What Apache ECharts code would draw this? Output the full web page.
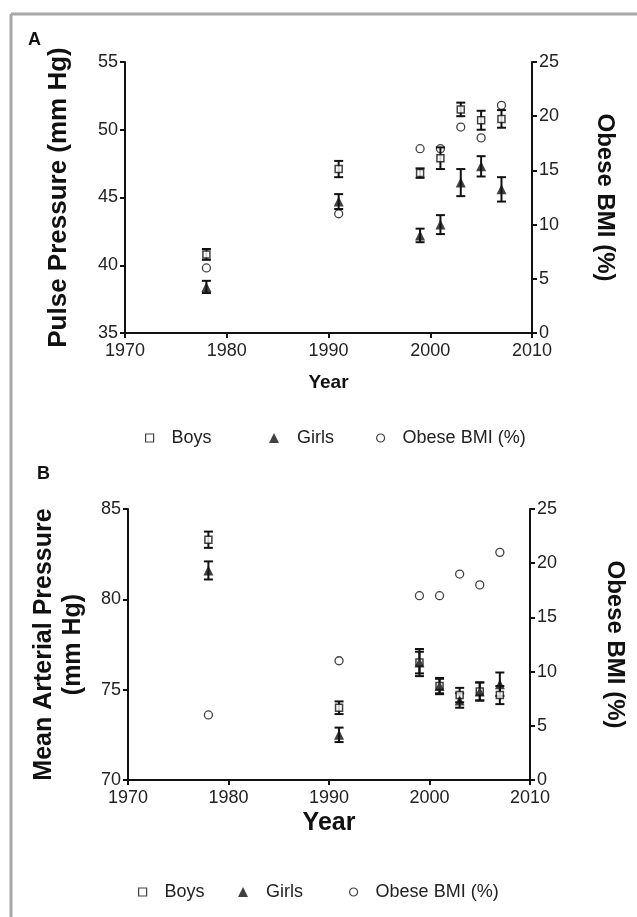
<!DOCTYPE html>
<html>
<head>
<meta charset="utf-8">
<script src="https://cdn.jsdelivr.net/npm/echarts@6/dist/echarts.min.js"></script>
<style>
    html, body { margin: 0; padding: 0; background: #fff; }
    #chart { width: 637px; height: 917px; }
</style>
</head>
<body>
<div id="chart"></div>
<script>
// survey years
var years = [1978, 1991, 1999, 2001, 2003, 2005, 2007];
// panel A: pulse pressure (mm Hg)
var ppBoys = [40.8, 47.1, 46.8, 47.9, 51.5, 50.7, 50.8];
var ppBoysErr = [0.4, 0.6, 0.35, 0.8, 0.5, 0.7, 0.65];
var ppGirls = [38.4, 44.7, 42.2, 43.0, 46.1, 47.3, 45.6];
var ppGirlsErr = [0.45, 0.55, 0.5, 0.7, 1.0, 0.75, 0.9];
// panel B: mean arterial pressure (mm Hg)
var mapBoys = [83.3, 74.0, 76.5, 75.2, 74.7, 74.9, 74.7];
var mapBoysErr = [0.45, 0.35, 0.75, 0.45, 0.4, 0.5, 0.5];
var mapGirls = [81.6, 72.5, 76.5, 75.2, 74.4, 74.9, 75.3];
var mapGirlsErr = [0.5, 0.4, 0.6, 0.4, 0.4, 0.5, 0.65];
// obese BMI (%) - same in both panels
var obese = [6, 11, 17, 17, 19, 18, 21];

var font = "'Liberation Sans', Arial, sans-serif";
var black = '#111';

var myChart = echarts.init(document.getElementById('chart'), null, { renderer: 'canvas' });

function pairs(ys) {
    return years.map(function (x, i) { return [x, ys[i]]; });
}

// error bars drawn through the axis scales
function errBars(ys, errs, gi) {
    return {
        type: 'custom',
        name: 'err',
        xAxisIndex: gi,
        yAxisIndex: gi * 2,
        z: 1,
        silent: true,
        data: years.map(function (x, i) { return [x, ys[i] - errs[i], ys[i] + errs[i]]; }),
        renderItem: function (params, api) {
            var lo = api.coord([api.value(0), api.value(1)]);
            var hi = api.coord([api.value(0), api.value(2)]);
            var w = 4.5;
            var st = { stroke: black, lineWidth: 2 };
            return {
                type: 'group',
                children: [
                    { type: 'line', shape: { x1: lo[0], y1: lo[1], x2: hi[0], y2: hi[1] }, style: st },
                    { type: 'line', shape: { x1: lo[0] - w, y1: lo[1], x2: lo[0] + w, y2: lo[1] }, style: st },
                    { type: 'line', shape: { x1: hi[0] - w, y1: hi[1], x2: hi[0] + w, y2: hi[1] }, style: st }
                ]
            };
        }
    };
}

function scatter(name, ys, gi, yi) {
    var s = {
        type: 'scatter',
        name: name,
        xAxisIndex: gi,
        yAxisIndex: yi,
        z: 3,
        data: pairs(ys)
    };
    if (name === 'Boys') {
        s.symbol = 'rect';
        s.symbolSize = 7;
        s.itemStyle = { color: '#fff', borderColor: black, borderWidth: 1.5 };
    } else if (name === 'Girls') {
        s.symbol = 'triangle';
        s.symbolSize = 10;
        s.itemStyle = { color: black };
    } else {
        s.symbol = 'circle';
        s.symbolSize = 8;
        s.itemStyle = { color: 'rgba(255,255,255,0)', borderColor: black, borderWidth: 1.3 };
        s.z = 4;
    }
    return s;
}

function xAxis(gi, nameSize, nameGap) {
    return {
        type: 'value', gridIndex: gi, min: 1970, max: 2010, interval: 10,
        name: 'Year', nameLocation: 'middle', nameGap: nameGap,
        nameTextStyle: { fontFamily: font, fontWeight: 'bold', fontSize: nameSize, color: black },
        axisLine: { lineStyle: { color: black, width: 2 } },
        axisTick: { lineStyle: { color: black, width: 2 }, length: 5 },
        axisLabel: { fontFamily: font, fontSize: 18, color: '#222', margin: 9,
            formatter: function (v) { return String(v); } },
        splitLine: { show: false }
    };
}

function yAxis(gi, pos, min, max, interval, name, nameGap, nameRotate, nameSize) {
    return {
        type: 'value', gridIndex: gi, position: pos, min: min, max: max, interval: interval,
        name: name, nameLocation: 'middle', nameGap: nameGap, nameRotate: nameRotate,
        nameTextStyle: { fontFamily: font, fontWeight: 'bold', fontSize: nameSize, color: black, lineHeight: 29 },
        axisLine: { show: true, onZero: false, lineStyle: { color: black, width: 2 } },
        axisTick: { show: true, lineStyle: { color: black, width: 2 }, length: 5 },
        axisLabel: { fontFamily: font, fontSize: 18, color: '#222', margin: 7 },
        splitLine: { show: false }
    };
}

function legendItem(name, icon, left, top, style, size) {
    return {
        left: left, top: top,
        data: [{ name: name, icon: icon }],
        itemWidth: size, itemHeight: size,
        itemStyle: style,
        selectedMode: false,
        textStyle: { fontFamily: font, fontSize: 18, color: '#222', padding: [0, 0, 0, 13] }
    };
}

var hollow = { color: '#fff', borderColor: black, borderWidth: 1.2 };
var solid = { color: black, borderWidth: 0 };

var option = {
    backgroundColor: '#fff',
    animation: false,
    grid: [
        { left: 125, top: 62, width: 407, height: 271 },
        { left: 128, top: 509, width: 406, height: 271 }
    ],
    xAxis: [xAxis(0, 19, 40), xAxis(1, 25, 31)],
    yAxis: [
        yAxis(0, 'left', 35, 55, 5, 'Pulse Pressure (mm Hg)', 52, 90, 26),
        yAxis(0, 'right', 0, 25, 5, 'Obese BMI (%)', 58, -90, 24),
        yAxis(1, 'left', 70, 85, 5, 'Mean Arterial Pressure\n(mm Hg)', 40, 90, 25),
        yAxis(1, 'right', 0, 25, 5, 'Obese BMI (%)', 70, -90, 24)
    ],
    legend: [
        legendItem('Boys', 'rect', 140, 424, hollow, 8),
        legendItem('Girls', 'triangle', 264, 424, solid, 10),
        legendItem('Obese BMI (%)', 'circle', 371, 424, hollow, 8),
        legendItem('Boys', 'rect', 133, 878, hollow, 8),
        legendItem('Girls', 'triangle', 233, 878, solid, 10),
        legendItem('Obese BMI (%)', 'circle', 344, 878, hollow, 8)
    ],
    graphic: [
        { type: 'line', shape: { x1: 11, y1: 14, x2: 640, y2: 14 }, style: { stroke: '#a8a8a8', lineWidth: 3 } },
        { type: 'line', shape: { x1: 11, y1: 14, x2: 11, y2: 920 }, style: { stroke: '#a8a8a8', lineWidth: 3 } },
        { type: 'text', left: 28, top: 31, style: { text: 'A', font: 'bold 18px ' + font, fill: black } },
        { type: 'text', left: 37, top: 465, style: { text: 'B', font: 'bold 18px ' + font, fill: black } }
    ],
    series: [
        errBars(ppBoys, ppBoysErr, 0),
        errBars(ppGirls, ppGirlsErr, 0),
        scatter('Boys', ppBoys, 0, 0),
        scatter('Girls', ppGirls, 0, 0),
        scatter('Obese BMI (%)', obese, 0, 1),
        errBars(mapBoys, mapBoysErr, 1),
        errBars(mapGirls, mapGirlsErr, 1),
        scatter('Boys', mapBoys, 1, 2),
        scatter('Girls', mapGirls, 1, 2),
        scatter('Obese BMI (%)', obese, 1, 3)
    ]
};

myChart.setOption(option, true);
</script>
</body>
</html>
